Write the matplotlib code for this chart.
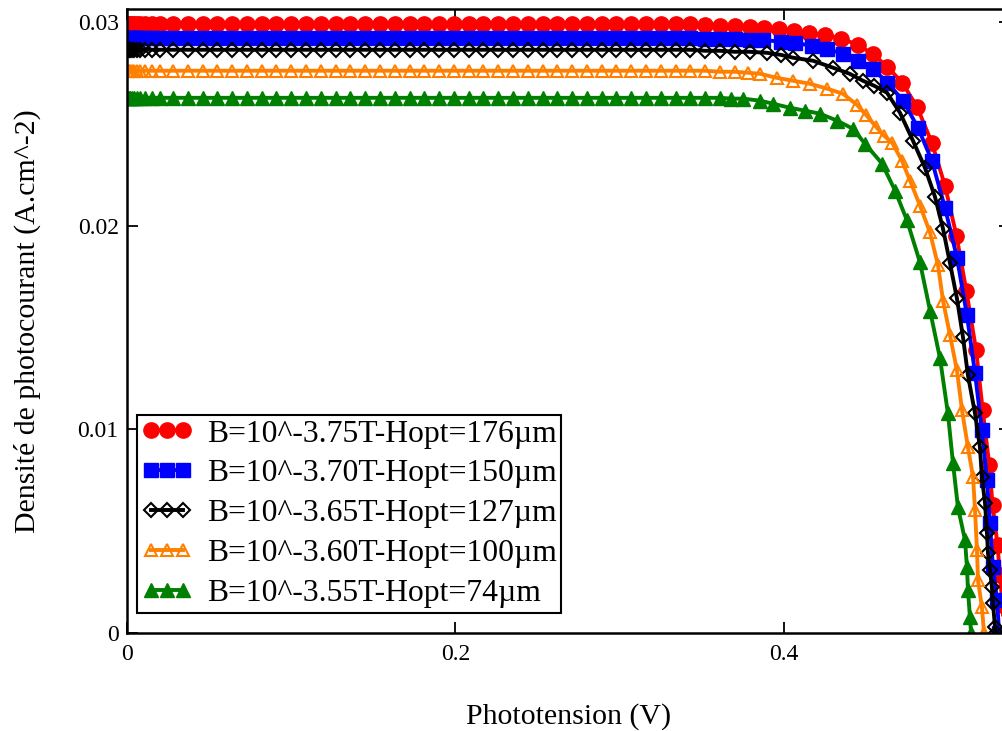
import matplotlib
matplotlib.use("Agg")
import matplotlib.pyplot as plt
from matplotlib.ticker import FuncFormatter

plt.rcParams['font.family'] = ['Liberation Serif', 'DejaVu Serif']

# plateau voltages shared by all curves (V)
v_flat = [0.000, 0.001, 0.002, 0.003, 0.004, 0.006, 0.008, 0.011, 0.015, 0.020,
          0.028, 0.037, 0.046, 0.055, 0.064, 0.073, 0.082, 0.091, 0.100, 0.109,
          0.118, 0.127, 0.136, 0.145, 0.154, 0.163, 0.172, 0.181, 0.190, 0.199,
          0.208, 0.217, 0.226, 0.235, 0.244, 0.253, 0.262, 0.271, 0.280, 0.289,
          0.298, 0.307, 0.316]

# short-circuit current density on the plateau (A/cm2)
jsc = [0.02990, 0.02922, 0.02863, 0.02760, 0.02627]

# knee + drop of each curve
v_knee_375 = [0.325, 0.334, 0.343, 0.352, 0.361, 0.370, 0.379, 0.388, 0.397, 0.406,
              0.415, 0.425, 0.435, 0.445, 0.454, 0.463, 0.472, 0.481, 0.490, 0.498,
              0.505, 0.511, 0.517, 0.521, 0.525, 0.527, 0.530, 0.5315, 0.533, 0.534]
j_knee_375 = [0.02990, 0.02990, 0.02990, 0.02985, 0.02980, 0.02980, 0.02975, 0.02971, 0.02966, 0.02956,
              0.02946, 0.02936, 0.02917, 0.02887, 0.02843, 0.02779, 0.02701, 0.02583, 0.02407, 0.02196,
              0.01951, 0.01681, 0.01387, 0.01093, 0.00824, 0.00627, 0.00431, 0.00284, 0.00137, 0.0]

v_knee_370 = [0.325, 0.334, 0.343, 0.352, 0.361, 0.370, 0.379, 0.387, 0.398, 0.407,
              0.417, 0.426, 0.436, 0.445, 0.454, 0.463, 0.4725, 0.4816, 0.490, 0.498,
              0.5053, 0.5114, 0.5163, 0.5205, 0.5236, 0.5254, 0.5272, 0.5297, 0.531]
j_knee_370 = [0.02922, 0.02922, 0.02922, 0.02917, 0.02917, 0.02917, 0.02912, 0.02912, 0.02902, 0.02897,
              0.02882, 0.02868, 0.02843, 0.02809, 0.02770, 0.02701, 0.02613, 0.02480, 0.02319, 0.02088,
              0.01843, 0.01559, 0.01275, 0.00995, 0.00750, 0.00539, 0.00324, 0.00162, 0.0]

v_knee_365 = [0.325, 0.334, 0.343, 0.352, 0.361, 0.370, 0.379, 0.3896, 0.398, 0.4055,
              0.4177, 0.4298, 0.440, 0.448, 0.455, 0.4627, 0.4706, 0.4785, 0.4858, 0.4919,
              0.4968, 0.5011, 0.5053, 0.509, 0.512, 0.5163, 0.5193, 0.5205, 0.5224, 0.5236,
              0.5242, 0.5254, 0.5266, 0.5272, 0.5285, 0.529]
j_knee_365 = [0.02863, 0.02863, 0.02863, 0.02858, 0.02858, 0.02853, 0.02853, 0.02848, 0.02838, 0.02824,
              0.02809, 0.02775, 0.02745, 0.02711, 0.02686, 0.02652, 0.02554, 0.02417, 0.02284, 0.02142,
              0.01985, 0.01814, 0.01642, 0.01451, 0.01265, 0.01078, 0.00912, 0.00765, 0.00637, 0.00490,
              0.00392, 0.00309, 0.00225, 0.00147, 0.00029, 0.0]

v_knee_360 = [0.325, 0.334, 0.343, 0.352, 0.361, 0.370, 0.378, 0.3854, 0.3957, 0.4055,
              0.4158, 0.4262, 0.4359, 0.4444, 0.4499, 0.456, 0.4609, 0.4658, 0.4718, 0.4767,
              0.4828, 0.4889, 0.4938, 0.4968, 0.5011, 0.5053, 0.5084, 0.512, 0.5151, 0.5163,
              0.5175, 0.5181, 0.5205, 0.5218]
j_knee_360 = [0.02760, 0.02760, 0.02760, 0.02760, 0.02755, 0.02755, 0.02750, 0.02745, 0.02725, 0.02711,
              0.02696, 0.02672, 0.02647, 0.02593, 0.02544, 0.02485, 0.02441, 0.02407, 0.02319, 0.02221,
              0.02098, 0.01966, 0.01804, 0.01632, 0.01461, 0.01289, 0.01093, 0.00912, 0.00765, 0.00603,
              0.00407, 0.00260, 0.00127, 0.0]

v_knee_355 = [0.325, 0.334, 0.343, 0.352, 0.361, 0.368, 0.375, 0.3854, 0.3933, 0.4037,
              0.4128, 0.4219, 0.4323, 0.442, 0.4493, 0.4597, 0.4676, 0.4749, 0.4828, 0.4889,
              0.495, 0.4998, 0.5029, 0.5059, 0.5102, 0.5114, 0.512, 0.5132, 0.5139]
j_knee_355 = [0.02627, 0.02627, 0.02627, 0.02627, 0.02627, 0.02623, 0.02623, 0.02613, 0.02598, 0.02578,
              0.02564, 0.02549, 0.02515, 0.02475, 0.02402, 0.02304, 0.02172, 0.02025, 0.01819, 0.01583,
              0.01348, 0.01078, 0.00833, 0.00618, 0.00456, 0.00324, 0.00211, 0.00078, 0.0]

labels = ['B=10^-3.75T-Hopt=176\u00b5m', 'B=10^-3.70T-Hopt=150\u00b5m',
          'B=10^-3.65T-Hopt=127\u00b5m', 'B=10^-3.60T-Hopt=100\u00b5m',
          'B=10^-3.55T-Hopt=74\u00b5m']
knees = [(v_knee_375, j_knee_375), (v_knee_370, j_knee_370), (v_knee_365, j_knee_365),
         (v_knee_360, j_knee_360), (v_knee_355, j_knee_355)]

styles = [dict(color='#ff0000', marker='o', ms=11, mfc='#ff0000', mec='#ff0000'),
          dict(color='#0000ff', marker='s', ms=10, mfc='#0000ff', mec='#0000ff'),
          dict(color='black', marker='D', ms=7, mfc='none', mec='black', mew=1.5),
          dict(color='#ff8000', marker='^', ms=9, mfc='none', mec='#ff8000', mew=1.5),
          dict(color='#008000', marker='^', ms=10.5, mfc='#008000', mec='#008000')]

fig = plt.figure(figsize=(10.03, 7.31), dpi=100)
ax = fig.add_axes([127 / 1003, 98 / 731, 883 / 1003, 624 / 731])

for lab, (vk, jk), j0, st in zip(labels, knees, jsc, styles):
    v = v_flat + vk
    j = [j0] * len(v_flat) + jk
    ax.plot(v, j, lw=2.8, label=lab, **st)

ax.set_xlim(0, 0.5376)
ax.set_ylim(0, 0.03063)
ax.set_xticks([0, 0.2, 0.4])
ax.set_yticks([0, 0.01, 0.02, 0.03])
ax.xaxis.set_major_formatter(FuncFormatter(lambda x, p: '%g' % x))
ax.yaxis.set_major_formatter(FuncFormatter(lambda x, p: '%g' % x))
ax.tick_params(direction='in', length=8, width=1.3, labelsize=17,
               top=True, right=True)
ax.tick_params(axis='x', pad=8)
ax.tick_params(axis='y', pad=6)
for s in ax.spines.values():
    s.set_linewidth(1.8)

ax.set_xlabel('Phototension (V)', fontsize=21.5)
ax.set_ylabel('Densité de photocourant (A.cm^-2)', fontsize=21.5)
ax.xaxis.set_label_coords(0.5, -0.112)
ax.yaxis.set_label_coords(-0.097, 0.5)

leg = ax.legend(loc='lower left', bbox_to_anchor=(0.0113, 0.032), fontsize=22.8,
                numpoints=3, handlelength=1.6, handletextpad=0.45,
                labelspacing=0.34, borderpad=0.15, borderaxespad=0,
                fancybox=False, framealpha=1, edgecolor='black')
leg.get_frame().set_linewidth(1.5)

fig.savefig('out.png', dpi=100)
